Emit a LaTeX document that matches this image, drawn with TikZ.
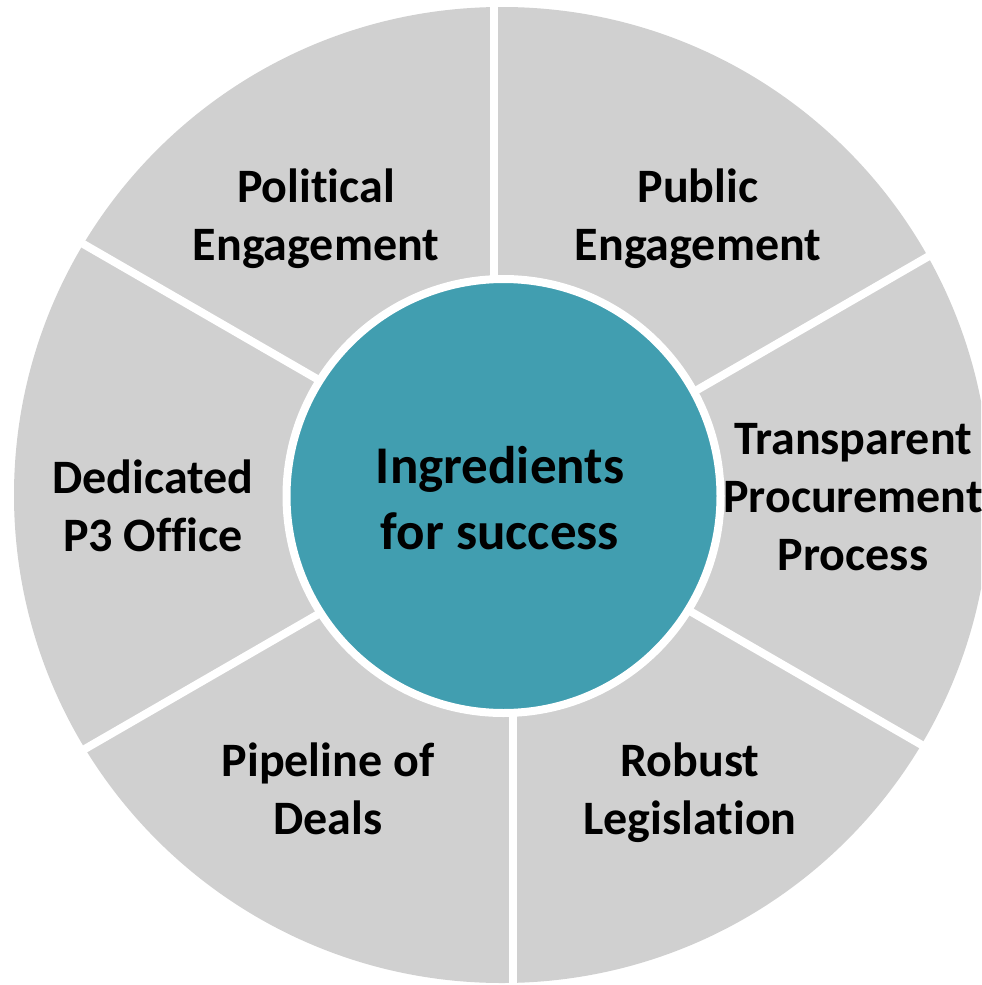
\documentclass[tikz,border=0pt]{standalone}
\usepackage{fontspec}
\setmainfont[Ligatures=NoCommon]{Carlito}
\usepackage{xcolor}
\usepackage{tikz}
\definecolor{cinza}{RGB}{208,208,208}
\definecolor{petroleo}{RGB}{65,158,176}

\begin{document}
\begin{tikzpicture}[
    x=0.5pt, y=-0.5pt,
    every node/.style={align=center, inner sep=0pt, font=\bfseries\fontsize{24}{29}\selectfont}
]
\tikzset{
    fatia/.style={fill=cinza},
    corte/.style={draw=white, line width=4pt},
    centro/.style={circle, fill=petroleo, draw=white, line width=4pt, minimum size=217pt},
    destaque/.style={font=\bfseries\fontsize{26.5}{33}\selectfont}
}
\clip (0,0) rectangle (981,985);
\fill[fatia] (502,495) circle[radius=488];
\draw[corte] (494,400) -- (494,-10);
\draw[corte] (513,600) -- (513,1000);
\draw[corte] (626,431) -- (1059,181);
\draw[corte] (643,584) -- (1076,834);
\draw[corte] (402,428) -- (-31,178);
\draw[corte] (400,567) -- (-33,817);
\node[centro] (hub) at (503.5,496) {};
\node[destaque] (lema) at (500,498.5) {Ingredients\\for success};
\node (politica) at (316,218.5) {Political\\Engagement};
\node (publico) at (698,218.5) {Public\\Engagement};
\node (compras) at (853,497.5) {Transparent\\Procurement\\Process};
\node (escritorio) at (153,505.5) {Dedicated\\P3 Office};
\node (projetos) at (328,788.5) {Pipeline of\\Deals};
\node (lei) at (690,793) {Robust\\Legislation};
\end{tikzpicture}
\end{document}
